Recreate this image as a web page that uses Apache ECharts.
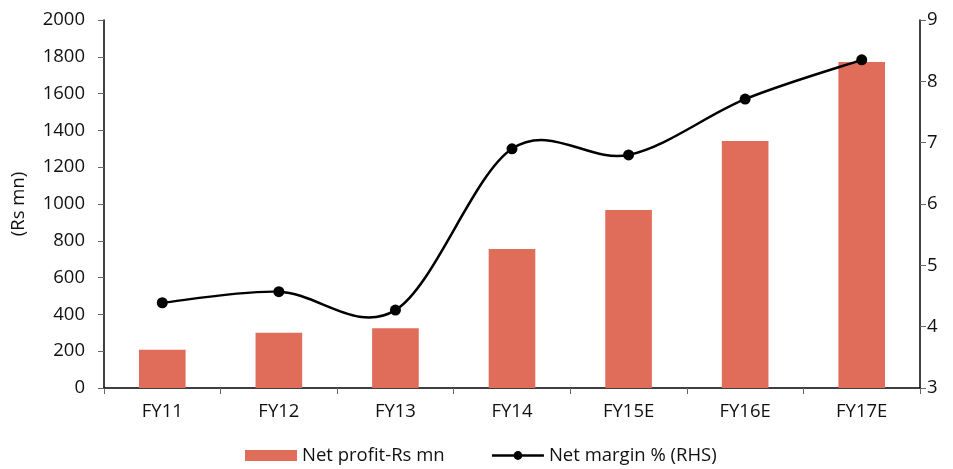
<!DOCTYPE html>
<html>
<head>
<meta charset="utf-8">
<script src="https://cdn.jsdelivr.net/npm/echarts@6/dist/echarts.min.js"></script>
<style>
  html, body { margin: 0; padding: 0; background: #fff; }
  #chart { width: 953px; height: 469px; }
</style>
</head>
<body>
<div id="chart"></div>
<script>
// Fiscal years (E = estimate)
const categories = ['FY11', 'FY12', 'FY13', 'FY14', 'FY15E', 'FY16E', 'FY17E'];
// Net profit, Rs mn (left axis)
const netProfit = [208, 300, 325, 755, 967, 1343, 1772];
// Net margin, % (right axis)
const netMargin = [4.39, 4.57, 4.27, 6.90, 6.80, 7.71, 8.35];
// Axis tick settings
const leftTicks = { min: 0, max: 2000, interval: 200 };
const rightTicks = { min: 3, max: 9, interval: 1 };

const font = '"Open Sans", "Noto Sans", sans-serif';
const fs = 18.5;
const chart = echarts.init(document.getElementById('chart'), null, { renderer: 'canvas' });

// Catmull-Rom style smoothed path through the margin points (pixel coords from the axes)
function renderMarginCurve(params, api) {
  if (params.dataIndex !== 0) return null;
  const pts = netMargin.map((v, i) => api.coord([i, v]));
  const n = pts.length;
  const P = (i) => pts[Math.max(0, Math.min(n - 1, i))];
  let d = 'M' + pts[0][0] + ' ' + pts[0][1];
  for (let i = 0; i < n - 1; i++) {
    const p0 = P(i - 1), p1 = P(i), p2 = P(i + 1), p3 = P(i + 2);
    const c1 = [p1[0] + (p2[0] - p0[0]) / 6, p1[1] + (p2[1] - p0[1]) / 6];
    const c2 = [p2[0] - (p3[0] - p1[0]) / 6, p2[1] - (p3[1] - p1[1]) / 6];
    d += ' C' + c1[0] + ' ' + c1[1] + ' ' + c2[0] + ' ' + c2[1] + ' ' + p2[0] + ' ' + p2[1];
  }
  return {
    type: 'path',
    shape: { pathData: d },
    style: { fill: null, stroke: '#000', lineWidth: 2.5 },
    silent: true
  };
}

chart.setOption({
  animation: false,
  textStyle: { fontFamily: font, color: '#111' },
  grid: { left: 104, right: 33, top: 20, bottom: 81, containLabel: false },
  legend: {
    top: 441,
    left: 240,
    itemGap: 46,
    itemWidth: 52,
    itemHeight: 11,
    textStyle: { fontFamily: font, fontSize: fs, color: '#111' },
    data: [
      { name: 'Net profit-Rs mn', icon: 'rect' },
      { name: 'Net margin % (RHS)', lineStyle: { color: '#000', width: 2.5, opacity: 1 } }
    ]
  },
  xAxis: {
    type: 'category',
    data: categories,
    axisLine: { lineStyle: { color: '#000', width: 1.5 } },
    axisTick: { show: true, length: 6, lineStyle: { color: '#666' } },
    axisLabel: { fontFamily: font, fontSize: fs, color: '#111', margin: 14 }
  },
  yAxis: [
    {
      type: 'value',
      min: leftTicks.min, max: leftTicks.max, interval: leftTicks.interval,
      name: '(Rs mn)',
      nameLocation: 'middle',
      nameGap: 76,
      nameRotate: 90,
      nameTextStyle: { fontFamily: font, fontSize: fs, color: '#111' },
      axisLine: { show: true, lineStyle: { color: '#000', width: 1.5 } },
      axisTick: { show: true, length: 6, lineStyle: { color: '#666' } },
      axisLabel: { fontFamily: font, fontSize: fs, color: '#111', margin: 19, formatter: (v) => String(v) },
      splitLine: { show: false }
    },
    {
      type: 'value',
      position: 'right',
      min: rightTicks.min, max: rightTicks.max, interval: rightTicks.interval,
      axisLine: { show: true, lineStyle: { color: '#000', width: 1.5 } },
      axisTick: { show: true, length: 6, lineStyle: { color: '#666' } },
      axisLabel: { fontFamily: font, fontSize: fs, color: '#111', margin: 7 },
      splitLine: { show: false }
    }
  ],
  series: [
    {
      name: 'Net profit-Rs mn',
      type: 'bar',
      yAxisIndex: 0,
      data: netProfit,
      barWidth: '40%',
      itemStyle: { color: '#E06C5A' }
    },
    {
      name: 'margin-curve',
      type: 'custom',
      yAxisIndex: 1,
      data: netMargin.map((v, i) => [i, v]),
      renderItem: renderMarginCurve,
      z: 3
    },
    {
      name: 'Net margin % (RHS)',
      type: 'line',
      yAxisIndex: 1,
      data: netMargin,
      symbol: 'circle',
      symbolSize: 11,
      lineStyle: { color: '#000', width: 2.5, opacity: 0 },
      itemStyle: { color: '#000' },
      z: 4
    }
  ]
});
</script>
</body>
</html>
